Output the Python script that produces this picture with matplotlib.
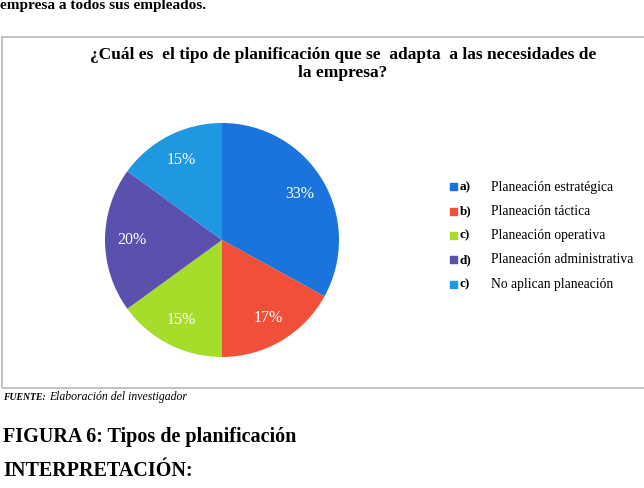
import matplotlib.pyplot as plt
from matplotlib.patches import Rectangle

keys = ['a)', 'b)', 'c)', 'd)', 'c)']
labels = ['Planeación estratégica', 'Planeación táctica', 'Planeación operativa',
          'Planeación administrativa', 'No aplican planeación']
values = [33, 17, 15, 20, 15]
colors = ['#1a74dc', '#f0503a', '#a6dc2a', '#5a50ae', '#1e98e0']

plt.rcParams['font.family'] = ['Liberation Serif', 'DejaVu Serif']

fig = plt.figure(figsize=(6.44, 4.88), dpi=100)
W, H = 644, 488


def fx(x):
    return x / W


def fy(y):
    return 1 - y / H


# chart frame
fig.patches.append(Rectangle((fx(2), fy(388)), fx(660), fy(37) - fy(388), transform=fig.transFigure,
                             fill=False, edgecolor='#b8b8b8', linewidth=1.2))

cx, cy, r = 222, 240, 117
ax = fig.add_axes([fx(cx - r), fy(cy + r), 2 * r / W, 2 * r / H])
wedges, texts, autotexts = ax.pie(values, colors=colors, startangle=90, counterclock=False,
                                  autopct='%d%%', pctdistance=0.77,
                                  textprops=dict(color='white', fontsize=11.5))
ax.set_aspect('auto')
ax.set_xlim(-1, 1)
ax.set_ylim(-1, 1)

# legend, drawn by hand to match the scanned layout
for i, (k, lab, c) in enumerate(zip(keys, labels, colors)):
    y = 187 + i * 24.3
    fig.patches.append(Rectangle((fx(450), fy(y + 3.5)), fx(7), fy(y - 3.5) - fy(y + 3.5),
                                 transform=fig.transFigure, color=c))
    fig.text(fx(460), fy(y), k, ha='left', va='center', fontsize=9.5, weight='bold')
    fig.text(fx(491), fy(y), lab, ha='left', va='center', fontsize=9.8)

fig.text(fx(343), fy(55), '¿Cuál es  el tipo de planificación que se  adapta  a las necesidades de',
         ha='center', va='center', fontsize=12.5, weight='bold')
fig.text(fx(343), fy(73), 'la empresa?', ha='center', va='center', fontsize=12.5, weight='bold')

fig.text(fx(0), fy(5), 'empresa a todos sus empleados.', ha='left', va='center', fontsize=11, weight='bold')
src = fig.text(fx(3), fy(400), 'FUENTE:', ha='left', va='baseline', fontsize=7, weight='bold', style='italic')
fig.canvas.draw()
x_end = src.get_window_extent().x1
fig.text(x_end / W + fx(3), fy(400), 'Elaboración del investigador', ha='left', va='baseline',
         fontsize=8.5, style='italic')
fig.text(fx(3), fy(437), 'FIGURA 6: Tipos de planificación', ha='left', va='center', fontsize=14.5, weight='bold')
fig.text(fx(3), fy(471), 'INTERPRETACIÓN:', ha='left', va='center', fontsize=14.5, weight='bold')

fig.savefig('out.png', dpi=100)
